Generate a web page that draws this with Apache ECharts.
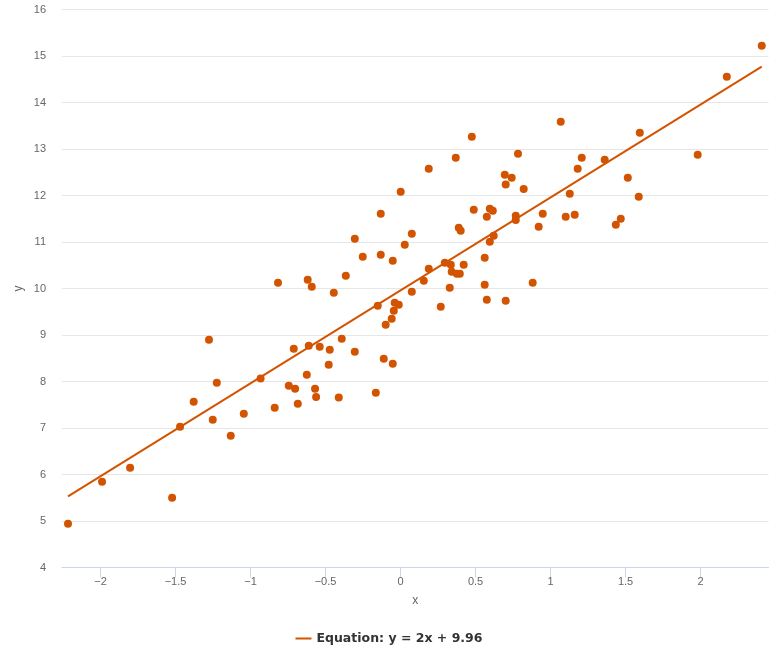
<!DOCTYPE html>
<html>
<head>
<meta charset="utf-8">
<script src="https://cdn.jsdelivr.net/npm/echarts@6/dist/echarts.min.js"></script>
<style>
html,body{margin:0;padding:0;background:#fff;}
#chart{width:778px;height:664px;}
</style>
</head>
<body>
<div id="chart"></div>
<script>
var xValues = [-2.217,-1.99,-1.803,-1.523,-1.47,-1.379,-1.277,-1.252,-1.225,-1.132,
  -1.045,-0.933,-0.839,-0.685,-0.817,-0.745,-0.712,-0.703,-0.625,-0.619,
  -0.612,-0.592,-0.57,-0.563,-0.539,-0.479,-0.472,-0.445,-0.412,-0.392,
  -0.365,-0.305,-0.305,-0.252,-0.165,-0.152,-0.132,-0.132,-0.112,-0.099,
  -0.059,-0.052,-0.052,-0.045,-0.039,-0.012,0.001,0.028,0.075,0.075,
  0.155,0.188,0.188,0.268,0.295,0.328,0.335,0.341,0.368,0.375,
  0.388,0.395,0.401,0.421,0.475,0.488,0.561,0.561,0.575,0.575,
  0.595,0.595,0.615,0.621,0.695,0.701,0.701,0.741,0.768,0.768,
  0.783,0.821,0.921,0.948,1.068,1.101,1.128,1.161,1.181,1.208,
  1.361,1.435,1.468,1.515,1.588,1.595,1.981,2.175,2.408,0.881];
var yValues = [4.942,5.845,6.146,5.501,7.028,7.566,8.899,7.178,7.974,6.834,
  7.308,8.065,7.437,7.523,10.125,7.91,8.705,7.845,8.146,10.189,
  8.77,10.039,7.845,7.667,8.748,8.361,8.684,9.91,7.656,8.92,
  10.275,11.071,8.641,10.684,7.759,9.63,11.609,10.727,8.49,9.222,
  9.351,10.598,8.383,9.523,9.695,9.652,12.082,10.942,11.178,9.931,
  10.168,12.576,10.426,9.609,10.555,10.017,10.512,10.361,12.813,10.318,
  11.308,10.318,11.243,10.512,13.265,11.695,10.662,10.082,11.544,9.759,
  11.716,11.006,11.673,11.135,12.447,12.237,9.738,12.383,11.566,11.473,
  12.899,12.14,11.329,11.609,13.587,11.544,12.039,11.587,12.576,12.813,
  12.77,11.372,11.501,12.383,11.974,13.351,12.877,14.555,15.222,10.125];
var lineX = [-2.217, 2.408];
var lineY = [5.53, 14.77];
var xTicks = [-2,-1.5,-1,-0.5,0,0.5,1,1.5,2];
var yTicks = [4,5,6,7,8,9,10,11,12,13,14,15,16];
var seriesName = 'Equation: y = 2x + 9.96';

var color = '#d35400';
var scatterData = xValues.map(function(x,i){return [x, yValues[i]];});
var lineData = lineX.map(function(x,i){return [x, lineY[i]];});
function fmt(v){ return String(v).replace('-', '\u2212'); }

var chart = echarts.init(document.getElementById('chart'), null, {renderer:'canvas'});
chart.setOption({
  animation: false,
  textStyle: {fontFamily: 'Liberation Sans'},
  grid: {left: 62, right: 9.5, top: 9.5, bottom: 96.5, containLabel: false, outerBoundsMode: 'none'},
  legend: {
    data: [seriesName],
    left: 'center',
    top: 627,
    icon: 'rect',
    itemWidth: 16,
    itemHeight: 2,
    itemGap: 20,
    textStyle: {fontFamily: 'DejaVu Sans', fontWeight: 'bold', fontSize: 12.5, color: '#333333'}
  },
  xAxis: {
    type: 'value',
    min: -2.257,
    max: 2.453,
    name: 'x',
    nameLocation: 'middle',
    nameGap: 27,
    nameMoveOverlap: false,
    nameTextStyle: {color: '#666666', fontSize: 12, fontFamily: 'Liberation Sans'},
    axisLine: {show: true, onZero: false, lineStyle: {color: '#ccd6eb', width: 1}},
    axisTick: {show: true, length: 10, lineStyle: {color: '#ccd6eb'}, customValues: xTicks},
    axisLabel: {color: '#666666', fontSize: 11, margin: 9, customValues: xTicks, formatter: fmt},
    splitLine: {show: false}
  },
  yAxis: {
    type: 'value',
    min: 4,
    max: 16,
    interval: 1,
    name: 'y',
    nameLocation: 'middle',
    nameGap: 37,
    nameRotate: 90,
    nameMoveOverlap: false,
    nameTextStyle: {color: '#666666', fontSize: 12, fontFamily: 'Liberation Sans'},
    axisLine: {show: false},
    axisTick: {show: false},
    axisLabel: {color: '#666666', fontSize: 11, margin: 16, customValues: yTicks},
    splitLine: {show: true, lineStyle: {color: '#e6e6e6', width: 1}}
  },
  series: [
    {
      name: 'points',
      type: 'scatter',
      data: scatterData,
      symbol: 'circle',
      symbolSize: 8,
      itemStyle: {color: color, opacity: 1},
      z: 2
    },
    {
      name: seriesName,
      type: 'line',
      data: lineData,
      symbol: 'none',
      showSymbol: false,
      lineStyle: {color: color, width: 2},
      itemStyle: {color: color},
      z: 3
    }
  ]
});
</script>
</body>
</html>
